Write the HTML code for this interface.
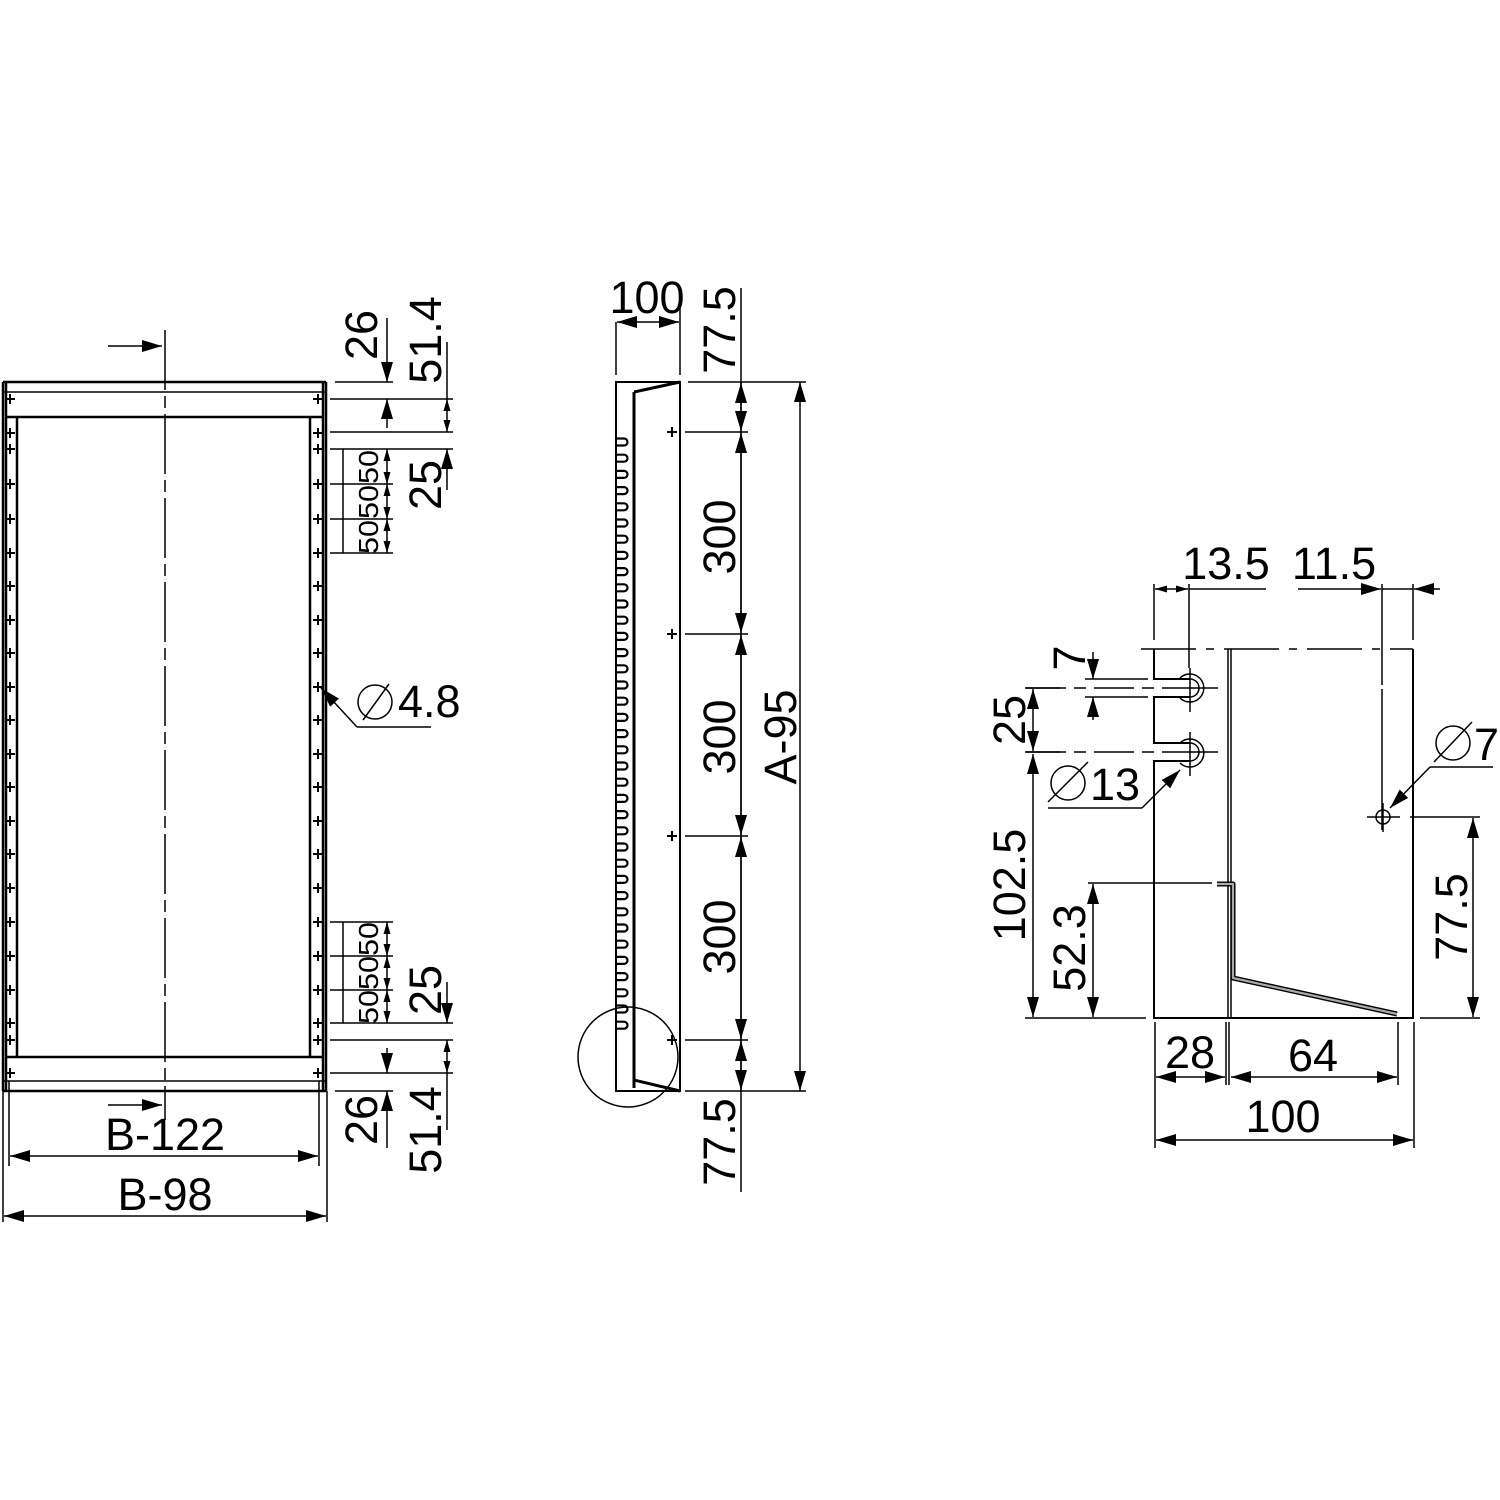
<!DOCTYPE html>
<html><head><meta charset="utf-8"><style>
html,body{margin:0;padding:0;background:#fff;}
svg{display:block;}
text{font-family:"Liberation Sans",sans-serif;fill:#000;}
</style></head><body>
<svg width="1500" height="1500" viewBox="0 0 1500 1500" xmlns="http://www.w3.org/2000/svg">
<defs>
<marker id="a" markerUnits="userSpaceOnUse" markerWidth="22" markerHeight="12" refX="20" refY="6" orient="auto-start-reverse"><path d="M0,0 L20,6 L0,12 Z" fill="#000"/></marker>
<marker id="s" markerUnits="userSpaceOnUse" markerWidth="13" markerHeight="7" refX="12" refY="3.5" orient="auto-start-reverse"><path d="M0,0 L12,3.5 L0,7 Z" fill="#000"/></marker>
<symbol id="c" overflow="visible"><path d="M-5,0 H5 M0,-5 V5" stroke="#000" stroke-width="2" fill="none"/></symbol>
<symbol id="k" overflow="visible"><path d="M0,-3.5 H8 A3.5,3.5 0 0 1 8,3.5 H0" stroke="#000" stroke-width="2.2" fill="none"/></symbol>
</defs>
<g stroke="#000" fill="none" stroke-width="1.5">
<!-- LEFT VIEW -->
<path d="M3,382 V1091 M6,382 V1091 M326,382 V1091 M323,382 V1091 M3,382 H326 M3,1091 H326" stroke-width="2.5"/>
<path d="M3,392 H326 M3,1081 H326"/>
<path d="M6,417 H323 M17,417 V1057 M310,417 V1057 M6,1057 H323" stroke-width="2.5"/>
<path d="M165,330 V1120" stroke-dasharray="60,6,12,6"/>
<line x1="108" y1="346" x2="162" y2="346" marker-end="url(#a)"/>
<line x1="108" y1="1105" x2="162" y2="1105" marker-end="url(#a)"/>
<path d="M335,382 H393 M330,399 H453 M330,432 H453 M330,449 H453 M330,484 H393 M330,519 H393 M330,553 H393"/>
<line x1="387" y1="318" x2="387" y2="382" marker-end="url(#a)"/>
<line x1="387" y1="428" x2="387" y2="399" marker-end="url(#a)"/>
<line x1="447" y1="342" x2="447" y2="399"/>
<line x1="447" y1="399" x2="447" y2="432" marker-start="url(#s)" marker-end="url(#s)"/>
<line x1="447" y1="490" x2="447" y2="449" marker-end="url(#a)"/>
<line x1="343" y1="449" x2="343" y2="553"/>
<line x1="387" y1="449" x2="387" y2="484" marker-start="url(#s)" marker-end="url(#s)"/>
<line x1="387" y1="484" x2="387" y2="519" marker-start="url(#s)" marker-end="url(#s)"/>
<line x1="387" y1="519" x2="387" y2="553" marker-start="url(#s)" marker-end="url(#s)"/>
<path d="M330,922 H393 M330,956 H393 M330,990 H393 M330,1023 H453 M330,1040 H453 M330,1073 H453 M335,1091 H393"/>
<line x1="343" y1="922" x2="343" y2="1023"/>
<line x1="387" y1="922" x2="387" y2="956" marker-start="url(#s)" marker-end="url(#s)"/>
<line x1="387" y1="956" x2="387" y2="990" marker-start="url(#s)" marker-end="url(#s)"/>
<line x1="387" y1="990" x2="387" y2="1023" marker-start="url(#s)" marker-end="url(#s)"/>
<line x1="447" y1="982" x2="447" y2="1023" marker-end="url(#a)"/>
<line x1="447" y1="1040" x2="447" y2="1073" marker-start="url(#s)" marker-end="url(#s)"/>
<line x1="447" y1="1073" x2="447" y2="1130"/>
<line x1="387" y1="1048" x2="387" y2="1073" marker-end="url(#a)"/>
<line x1="387" y1="1148" x2="387" y2="1091" marker-end="url(#a)"/>
<path d="M9,1081 V1166 M319,1081 V1166 M3,1091 V1222 M327,1091 V1222"/>
<line x1="10" y1="1156" x2="318" y2="1156" marker-start="url(#a)" marker-end="url(#a)"/>
<line x1="4" y1="1216" x2="326" y2="1216" marker-start="url(#a)" marker-end="url(#a)"/>
<path d="M357,727 H431"/>
<line x1="357" y1="727" x2="321" y2="688" marker-end="url(#a)"/>
<circle cx="375" cy="702" r="17"/>
<line x1="363" y1="720" x2="389" y2="684"/>

<!-- MIDDLE VIEW -->
<path d="M616,382 V1091 H680 V382 Z" stroke-width="2"/>
<path d="M634,392 V1088 M634,392 L680,382 M634,1080 L680,1091" stroke-width="3"/>
<path d="M616,322 V375 M680,292 V375 M688,382 H806 M685,1091 H806 M685,432 H748 M685,634 H748 M685,836 H748 M685,1040 H748"/>
<line x1="648" y1="322" x2="617" y2="322" marker-end="url(#a)"/>
<line x1="648" y1="322" x2="679" y2="322" marker-end="url(#a)"/>
<line x1="741" y1="288" x2="741" y2="1192"/>
<line x1="741" y1="407" x2="741" y2="383" marker-end="url(#a)"/>
<line x1="741" y1="407" x2="741" y2="431" marker-end="url(#a)"/>
<line x1="741" y1="533" x2="741" y2="433" marker-end="url(#a)"/>
<line x1="741" y1="533" x2="741" y2="633" marker-end="url(#a)"/>
<line x1="741" y1="735" x2="741" y2="635" marker-end="url(#a)"/>
<line x1="741" y1="735" x2="741" y2="835" marker-end="url(#a)"/>
<line x1="741" y1="937" x2="741" y2="837" marker-end="url(#a)"/>
<line x1="741" y1="937" x2="741" y2="1039" marker-end="url(#a)"/>
<line x1="741" y1="1065" x2="741" y2="1041" marker-end="url(#a)"/>
<line x1="741" y1="1065" x2="741" y2="1090" marker-end="url(#a)"/>
<line x1="800" y1="382" x2="800" y2="1091" marker-start="url(#a)" marker-end="url(#a)"/>
<circle cx="628" cy="1057" r="50"/>

<!-- RIGHT VIEW -->
<path d="M1141,649 H1413" stroke-dasharray="55,10,8,10"/>
<path d="M1154,649 V679 H1190 M1190,697 H1154 V743 H1190 M1190,761 H1154 V1018 H1413 V649" stroke-width="2"/>
<path d="M1190,679 A9,9 0 0 1 1190,697 M1190,743 A9,9 0 0 1 1190,761"/>
<path d="M1180,678 A14,14 0 1 1 1180,698 M1180,743 A14,14 0 1 1 1180,763"/>
<path d="M1190,668 V712 M1190,732 V776 M1190,688 H1218 M1190,752 H1218"/>
<path d="M1026,688 H1190 M1026,752 H1190" stroke-dasharray="40,8,12,8"/>
<path d="M1085,679 H1148 M1085,697 H1148"/>
<path d="M1228,649 V1018 M1231,649 V1018"/>
<path d="M1217,884 H1233 V978 L1397,1014" stroke-width="5" stroke-linejoin="round"/>
<path d="M1217,884 H1233 V978 L1397,1014" stroke="#aaa" stroke-width="2.2" stroke-linejoin="round"/>
<path d="M1154,584 V640 M1189,584 V668 M1189,589 H1266 M1382,584 V830 M1413,584 V640"/>
<path d="M1382,660 V830" stroke="#fff" stroke-width="3" stroke-dasharray="0,25,4,200"/>
<line x1="1171" y1="589" x2="1155" y2="589" marker-end="url(#s)"/>
<line x1="1171" y1="589" x2="1188" y2="589" marker-end="url(#s)"/>
<line x1="1298" y1="589" x2="1381" y2="589" marker-end="url(#a)"/>
<line x1="1382" y1="589" x2="1413" y2="589"/>
<line x1="1440" y1="589" x2="1414" y2="589" marker-end="url(#a)"/>
<circle cx="1383" cy="817" r="7"/>
<path d="M1367,817 H1400 M1383,803 V832 M1410,817 H1480 M1420,1018 H1480"/>
<line x1="1430" y1="767" x2="1390" y2="808" marker-end="url(#a)"/>
<path d="M1430,767 H1493"/>
<circle cx="1453" cy="743" r="17"/>
<line x1="1434" y1="762" x2="1472" y2="722"/>
<line x1="1093" y1="652" x2="1093" y2="679" marker-end="url(#a)"/>
<line x1="1093" y1="720" x2="1093" y2="697" marker-end="url(#a)"/>
<path d="M1025,688 H1060 M1025,752 H1060 M1025,1018 H1146 M1088,883 H1212"/>
<line x1="1033" y1="720" x2="1033" y2="689" marker-end="url(#a)"/>
<line x1="1033" y1="720" x2="1033" y2="751" marker-end="url(#a)"/>
<line x1="1033" y1="754" x2="1033" y2="1017" marker-start="url(#a)" marker-end="url(#a)"/>
<line x1="1093" y1="884" x2="1093" y2="1017" marker-start="url(#a)" marker-end="url(#a)"/>
<line x1="1473" y1="818" x2="1473" y2="1017" marker-start="url(#a)" marker-end="url(#a)"/>
<line x1="1180" y1="770" x2="1142" y2="808" marker-start="url(#a)"/>
<path d="M1142,808 H1048"/>
<circle cx="1068" cy="783" r="17"/>
<line x1="1048" y1="802" x2="1088" y2="762"/>
<path d="M1155,1022 V1148 M1226,1022 V1085 M1229,1022 V1085 M1398,1022 V1085 M1414,1022 V1148"/>
<line x1="1156" y1="1077" x2="1225" y2="1077" marker-start="url(#a)" marker-end="url(#a)"/>
<line x1="1231" y1="1077" x2="1397" y2="1077" marker-start="url(#a)" marker-end="url(#a)"/>
<line x1="1156" y1="1140" x2="1413" y2="1140" marker-start="url(#a)" marker-end="url(#a)"/>
</g>
<g>
<use href="#c" x="10" y="399"/><use href="#c" x="318" y="399"/>
<use href="#c" x="10" y="1073"/><use href="#c" x="318" y="1073"/>
<use href="#c" x="10" y="433"/><use href="#c" x="318" y="433"/>
<use href="#c" x="10" y="449"/><use href="#c" x="318" y="449"/>
<use href="#c" x="10" y="484"/><use href="#c" x="318" y="484"/>
<use href="#c" x="10" y="519"/><use href="#c" x="318" y="519"/>
<use href="#c" x="10" y="553"/><use href="#c" x="318" y="553"/>
<use href="#c" x="10" y="586"/><use href="#c" x="318" y="586"/>
<use href="#c" x="10" y="620"/><use href="#c" x="318" y="620"/>
<use href="#c" x="10" y="653"/><use href="#c" x="318" y="653"/>
<use href="#c" x="10" y="687"/><use href="#c" x="318" y="687"/>
<use href="#c" x="10" y="720"/><use href="#c" x="318" y="720"/>
<use href="#c" x="10" y="754"/><use href="#c" x="318" y="754"/>
<use href="#c" x="10" y="787"/><use href="#c" x="318" y="787"/>
<use href="#c" x="10" y="821"/><use href="#c" x="318" y="821"/>
<use href="#c" x="10" y="854"/><use href="#c" x="318" y="854"/>
<use href="#c" x="10" y="888"/><use href="#c" x="318" y="888"/>
<use href="#c" x="10" y="922"/><use href="#c" x="318" y="922"/>
<use href="#c" x="10" y="956"/><use href="#c" x="318" y="956"/>
<use href="#c" x="10" y="990"/><use href="#c" x="318" y="990"/>
<use href="#c" x="10" y="1023"/><use href="#c" x="318" y="1023"/>
<use href="#c" x="10" y="1040"/><use href="#c" x="318" y="1040"/>
<use href="#c" x="672" y="432"/><use href="#c" x="672" y="634"/>
<use href="#c" x="672" y="836"/><use href="#c" x="672" y="1040"/>
</g>
<g>
<use href="#k" x="616" y="442"/><use href="#k" x="616" y="458.2"/><use href="#k" x="616" y="474.4"/><use href="#k" x="616" y="490.6"/><use href="#k" x="616" y="506.8"/><use href="#k" x="616" y="523"/><use href="#k" x="616" y="539.2"/><use href="#k" x="616" y="555.4"/><use href="#k" x="616" y="571.6"/><use href="#k" x="616" y="587.8"/><use href="#k" x="616" y="604"/><use href="#k" x="616" y="620.2"/><use href="#k" x="616" y="636.4"/><use href="#k" x="616" y="652.6"/><use href="#k" x="616" y="668.8"/><use href="#k" x="616" y="685"/><use href="#k" x="616" y="701.2"/><use href="#k" x="616" y="717.4"/><use href="#k" x="616" y="733.6"/><use href="#k" x="616" y="749.8"/><use href="#k" x="616" y="766"/><use href="#k" x="616" y="782.2"/><use href="#k" x="616" y="798.4"/><use href="#k" x="616" y="814.6"/><use href="#k" x="616" y="830.8"/><use href="#k" x="616" y="847"/><use href="#k" x="616" y="863.2"/><use href="#k" x="616" y="879.4"/><use href="#k" x="616" y="895.6"/><use href="#k" x="616" y="911.8"/><use href="#k" x="616" y="928"/><use href="#k" x="616" y="944.2"/><use href="#k" x="616" y="960.4"/><use href="#k" x="616" y="976.6"/><use href="#k" x="616" y="992.8"/><use href="#k" x="616" y="1009"/><use href="#k" x="616" y="1025.2"/>
</g>
<g font-size="45" text-anchor="middle">
<text transform="translate(377,335) rotate(-90)">26</text>
<text transform="translate(441,340) rotate(-90)">51.4</text>
<text transform="translate(441,485) rotate(-90)">25</text>
<text transform="translate(441,990) rotate(-90)">25</text>
<text transform="translate(377,1120) rotate(-90)">26</text>
<text transform="translate(441,1130) rotate(-90)">51.4</text>
<text x="165" y="1150">B-122</text>
<text x="165" y="1210">B-98</text>
<text x="398" y="717" text-anchor="start">4.8</text>
<text x="647" y="313">100</text>
<text transform="translate(735,330) rotate(-90)">77.5</text>
<text transform="translate(735,537) rotate(-90)">300</text>
<text transform="translate(735,737) rotate(-90)">300</text>
<text transform="translate(735,937) rotate(-90)">300</text>
<text transform="translate(735,1142) rotate(-90)">77.5</text>
<text transform="translate(796,737) rotate(-90)">A-95</text>
<text x="1226" y="579">13.5</text>
<text x="1334" y="579">11.5</text>
<text x="1474" y="760" text-anchor="start">7</text>
<text transform="translate(1085,658) rotate(-90)">7</text>
<text transform="translate(1025,720) rotate(-90)">25</text>
<text transform="translate(1025,885) rotate(-90)">102.5</text>
<text x="1090" y="800" text-anchor="start">13</text>
<text transform="translate(1085,948) rotate(-90)">52.3</text>
<text transform="translate(1467,917) rotate(-90)">77.5</text>
<text x="1190" y="1068">28</text>
<text x="1313" y="1071">64</text>
<text x="1283" y="1132">100</text>
</g>
<g font-size="28" text-anchor="middle">
<text transform="translate(378,467) rotate(-90)" textLength="34" lengthAdjust="spacingAndGlyphs">50</text>
<text transform="translate(378,502) rotate(-90)" textLength="34" lengthAdjust="spacingAndGlyphs">50</text>
<text transform="translate(378,537) rotate(-90)" textLength="34" lengthAdjust="spacingAndGlyphs">50</text>
<text transform="translate(378,939) rotate(-90)" textLength="34" lengthAdjust="spacingAndGlyphs">50</text>
<text transform="translate(378,973) rotate(-90)" textLength="34" lengthAdjust="spacingAndGlyphs">50</text>
<text transform="translate(378,1007) rotate(-90)" textLength="34" lengthAdjust="spacingAndGlyphs">50</text>
</g>
</svg>
</body></html>
